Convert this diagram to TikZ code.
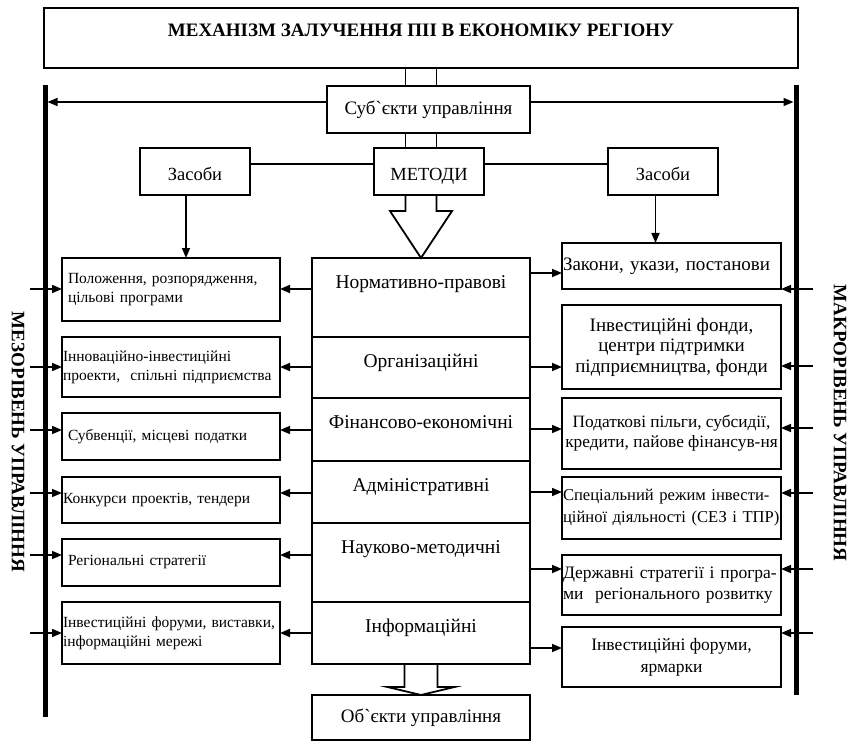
\documentclass[tikz,border=0pt]{standalone}
\usepackage{fontspec}
\newfontfamily\tnr{Liberation Serif}
\usetikzlibrary{positioning,arrows.meta}
\newcommand\fsz[2]{\fontsize{#1}{#2}\selectfont}

\tikzset{
  box/.style={draw,line width=1.8pt,inner sep=2pt,outer sep=0pt,align=center,anchor=north west},
  tbox/.style={box,minimum width=754pt,inner ysep=0pt,text height=29pt,text depth=31pt,font=\tnr\bfseries\fsz{19}{22}},
  sbox/.style={box,minimum width=110pt,inner ysep=0pt,text height=33pt,text depth=14pt,font=\tnr\fsz{18.5}{21}},
  crow/.style={draw,line width=1.8pt,outer sep=0pt,inner ysep=0pt,minimum width=218pt,text height=30pt,text depth=#1,font=\tnr\fsz{19.5}{22}},
  lbox/.style={box,align=left,inner xsep=6pt,text width=206pt,minimum height=#1,font=\tnr\fsz{15.5}{19}},
  lboxf/.style={lbox=#1,inner xsep=1pt,text width=216pt},
  rbox/.style={box,minimum width=219pt,minimum height=#1,font=\tnr\fsz{17.5}{21}},
  rboxl/.style={rbox=#1,align=left,inner xsep=1pt,text width=217pt},
  side/.style={font=\tnr\bfseries\fsz{19}{22},rotate=-90},
  bar/.style={line width=5pt},
  hollow/.style={line width=1.8pt,line join=miter}
}

\begin{document}
\begin{tikzpicture}[x=1pt,y=-1pt,>={Triangle[length=10pt,width=8pt]},line width=1.6pt]
\useasboundingbox (0,0) rectangle (853,743);

%---------------------------------
% TOP: MECHANISM AND SUBJECTS
%---------------------------------
\node[tbox] (title) at (44,8) {МЕХАНІЗМ ЗАЛУЧЕННЯ ПІІ В ЕКОНОМІКУ РЕГІОНУ};
\node[box,minimum width=203pt,minimum height=47pt,font=\tnr\fsz{19}{22}] (subj) at (327,86) {Суб`єкти управління};

\node[sbox] (zasL) at (140,148) {Засоби};
\node[sbox] (metody) at (374,148) {МЕТОДИ};
\node[sbox] (zasR) at (608,148) {Засоби};

%---------------------------------
% CENTRE: METHODS
%---------------------------------
\node[crow=49pt,anchor=north] (norm) at (421,258) {Нормативно-правові};
\node[crow=31pt,below=0pt of norm] (org) {Організаційні};
\node[crow=33pt,below=0pt of org] (fin) {Фінансово-економічні};
\node[crow=32pt,below=0pt of fin] (adm) {Адміністративні};
\node[crow=49pt,below=0pt of adm] (nauk) {Науково-методичні};
\node[crow=32pt,below=0pt of nauk] (info) {Інформаційні};

\node[box,minimum width=218pt,minimum height=45pt,font=\tnr\fsz{19}{22}] (obj) at (312,695) {Об`єкти управління};

%---------------------------------
% LEFT: MESO LEVEL
%---------------------------------
\node[lbox=63pt] (pol) at (62,258) {Положення, розпорядження,\\цільові програми};
\node[lboxf=60pt] (inn) at (62,337) {\mbox{Інноваційно-інвестиційні}\\\mbox{проекти,\ \ спільні підприємства}};
\node[lbox=47pt] (sub) at (62,413) {Субвенції, місцеві податки};
\node[lboxf=46pt] (kon) at (62,477) {\mbox{Конкурси проектів, тендери}};
\node[lbox=47pt] (reg) at (62,539) {Регіональні стратегії};
\node[lboxf=62pt] (invL) at (62,602) {\mbox{Інвестиційні форуми, виставки,}\\\mbox{інформаційні мережі}};

%---------------------------------
% RIGHT: MACRO LEVEL
%---------------------------------
\node[rboxl=46pt,font=\tnr\fsz{19}{22}] (zak) at (562,243) {\mbox{Закони, укази, постанови}};
\node[rbox=84pt,font=\tnr\fsz{19}{20.5}] (fond) at (562,305) {Інвестиційні фонди,\\центри підтримки\\підприємництва, фонди};
\node[rbox=71pt,font=\tnr\fsz{17.3}{20}] (pod) at (562,398) {Податкові пільги, субсидії,\\кредити, пайове фінансув-ня};
\node[rboxl=62pt,font=\tnr\fsz{16.6}{22}] (spec) at (562,477) {\mbox{Спеціальний режим інвести-}\\\mbox{ційної діяльності (СЕЗ і ТПР)}};
\node[rboxl=60pt] (derzh) at (562,555) {\mbox{Державні стратегії і програ-}\\\mbox{ми\ \ регіонального розвитку}};
\node[rbox=60pt,font=\tnr\fsz{17.5}{22}] (invR) at (562,627) {Інвестиційні форуми,\\ярмарки};

% side captions
\node[side] (mezo) at (18,442) {МЕЗОРІВЕНЬ УПРАВЛІННЯ};
\node[side] (makro) at (840,423) {МАКРОРІВЕНЬ УПРАВЛІННЯ};

%---------------------------------
% BARS AND CONNECTORS
%---------------------------------
\coordinate (barLtop) at (45,85);
\coordinate (barLbot) at (45,717);
\coordinate (barRtop) at (796,85);
\coordinate (barRbot) at (796,695);
\draw[bar] (barLtop) -- (barLbot);
\draw[bar] (barRtop) -- (barRbot);

\coordinate (hubL) at (47.5,102);
\coordinate (hubR) at (793.5,102);
\draw[->] (hubL -| subj.west) -- (hubL);
\draw[->] (hubR -| subj.east) -- (hubR);

% double lines between the upper boxes
\draw ([xshift=-15.5pt]norm.north |- title.south) -- ([xshift=-15.5pt]norm.north |- subj.north);
\draw ([xshift=15.5pt]norm.north |- title.south) -- ([xshift=15.5pt]norm.north |- subj.north);
\draw ([xshift=-15.5pt]norm.north |- subj.south) -- ([xshift=-15.5pt]norm.north |- metody.north);
\draw ([xshift=15.5pt]norm.north |- subj.south) -- ([xshift=15.5pt]norm.north |- metody.north);

\draw ([yshift=7.5pt]zasL.east) -- ([yshift=7.5pt]metody.west);
\draw ([yshift=7.5pt]metody.east) -- ([yshift=7.5pt]zasR.west);

\draw[->] ([xshift=-9pt]zasL.south) -- ([xshift=-9pt]zasL.south |- pol.north);
\draw[->] ([xshift=-7.5pt]zasR.south) -- ([xshift=-7.5pt]zasR.south |- zak.north);

% hollow arrows
\draw[hollow] ([xshift=-15.5pt]norm.north |- metody.south) -- ++(0,16) -- ++(-15.5,0)
  -- (norm.north) -- ++(31,-47) -- ++(-15.5,0) -- ++(0,-16);
\draw[hollow] ([xshift=-16.5pt]info.south) -- ++(0,23) -- ++(-17,0)
  -- (obj.north) -- ++(33.5,-8) -- ++(-17,0) -- ++(0,-23);

% arrows to the left column
\foreach \yy/\nm [count=\i] in {289/pol,367/inn,430/sub,493/kon,555/reg,633/invL}{
  \coordinate (ml\i) at (30,\yy);
  \draw[->] (ml\i) -- (ml\i -| \nm.west);
  \draw[->] (ml\i -| norm.west) -- (ml\i -| \nm.east);
}

% arrows to the right column
\foreach \yy/\nm [count=\i] in {289/zak,366/fond,428/pod,493/spec,569/derzh,633/invR}{
  \coordinate (mr\i) at (813,\yy);
  \draw[->] (mr\i) -- (mr\i -| \nm.east);
}
\foreach \yy/\nm [count=\i] in {273/zak,367/fond,429/pod,492/spec,569/derzh,648/invR}{
  \coordinate (cr\i) at (530,\yy);
  \draw[->] (cr\i -| norm.east) -- (cr\i -| \nm.west);
}

\end{tikzpicture}
\end{document}
